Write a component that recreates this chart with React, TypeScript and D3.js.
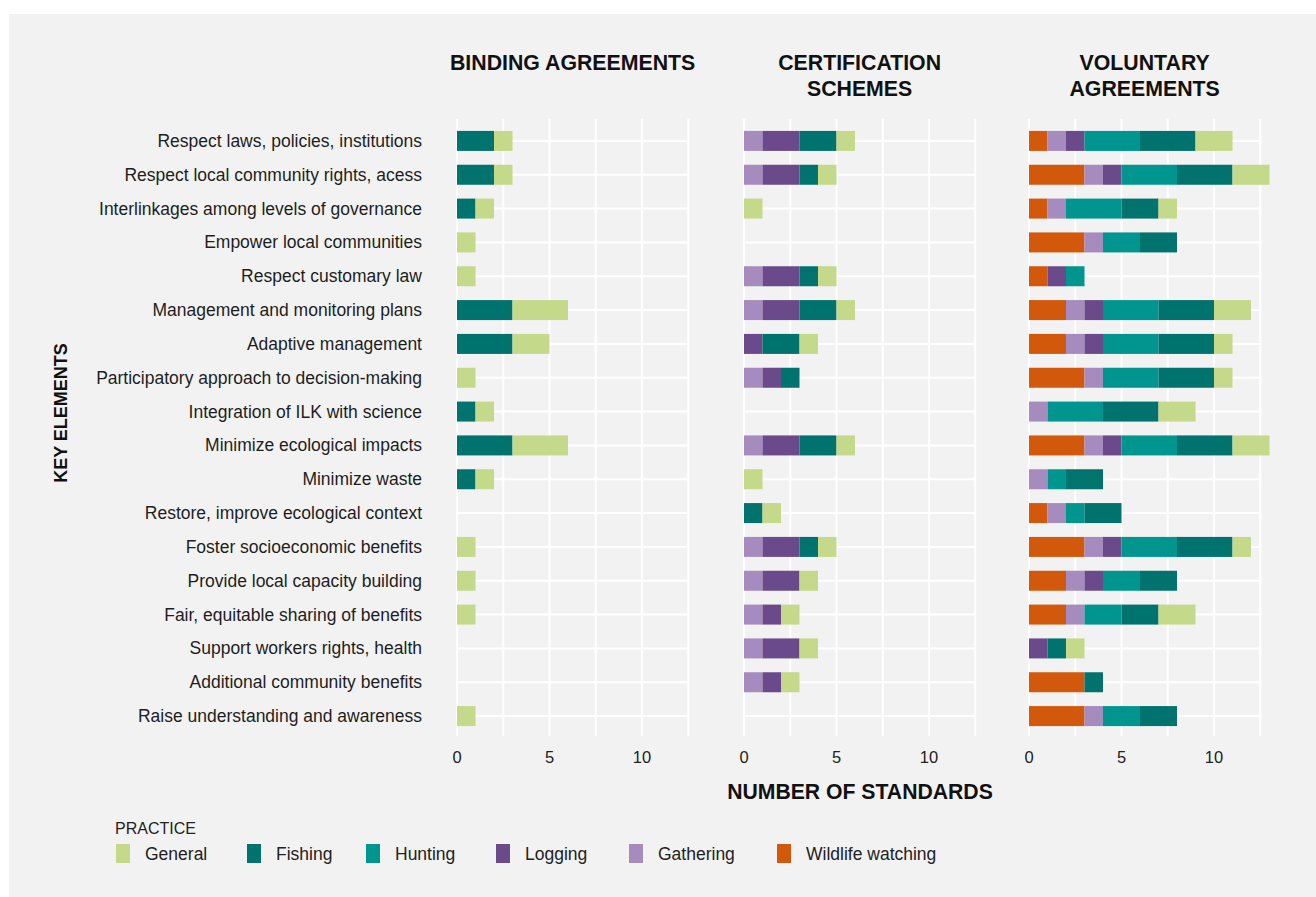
import React from "react";
import * as d3 from "d3";

const categories = [
  "Respect laws, policies, institutions",
  "Respect local community rights, acess",
  "Interlinkages among levels of governance",
  "Empower local communities",
  "Respect customary law",
  "Management and monitoring plans",
  "Adaptive management",
  "Participatory approach to decision-making",
  "Integration of ILK with science",
  "Minimize ecological impacts",
  "Minimize waste",
  "Restore, improve ecological context",
  "Foster socioeconomic benefits",
  "Provide local capacity building",
  "Fair, equitable sharing of benefits",
  "Support workers rights, health",
  "Additional community benefits",
  "Raise understanding and awareness",
];

// stack order, left to right
const stackPractices = ["Wildlife watching", "Gathering", "Logging", "Hunting", "Fishing", "General"];
const legendPractices = ["General", "Fishing", "Hunting", "Logging", "Gathering", "Wildlife watching"];
const practiceColors: Record<string, string> = {
  General: "#c4d98a",
  Fishing: "#00736e",
  Hunting: "#00968f",
  Logging: "#6a4a8b",
  Gathering: "#a68cbe",
  "Wildlife watching": "#d2580c",
};

// Binding agreements
const bindingFishing = [2, 2, 1, 0, 0, 3, 3, 0, 1, 3, 1, 0, 0, 0, 0, 0, 0, 0];
const bindingGeneral = [1, 1, 1, 1, 1, 3, 2, 1, 1, 3, 1, 0, 1, 1, 1, 0, 0, 1];

// Certification schemes
const certGathering = [1, 1, 0, 0, 1, 1, 0, 1, 0, 1, 0, 0, 1, 1, 1, 1, 1, 0];
const certLogging = [2, 2, 0, 0, 2, 2, 1, 1, 0, 2, 0, 0, 2, 2, 1, 2, 1, 0];
const certFishing = [2, 1, 0, 0, 1, 2, 2, 1, 0, 2, 0, 1, 1, 0, 0, 0, 0, 0];
const certGeneral = [1, 1, 1, 0, 1, 1, 1, 0, 0, 1, 1, 1, 1, 1, 1, 1, 1, 0];

// Voluntary agreements
const volWildlife = [1, 3, 1, 3, 1, 2, 2, 3, 0, 3, 0, 1, 3, 2, 2, 0, 3, 3];
const volGathering = [1, 1, 1, 1, 0, 1, 1, 1, 1, 1, 1, 1, 1, 1, 1, 0, 0, 1];
const volLogging = [1, 1, 0, 0, 1, 1, 1, 0, 0, 1, 0, 0, 1, 1, 0, 1, 0, 0];
const volHunting = [3, 3, 3, 2, 1, 3, 3, 3, 3, 3, 1, 1, 3, 2, 2, 0, 0, 2];
const volFishing = [3, 3, 2, 2, 0, 3, 3, 3, 3, 3, 2, 2, 3, 2, 2, 1, 1, 2];
const volGeneral = [2, 2, 1, 0, 0, 2, 1, 1, 2, 2, 0, 0, 1, 0, 2, 1, 0, 0];

const zeros = categories.map(() => 0);

const panelTitles = [["BINDING AGREEMENTS"], ["CERTIFICATION", "SCHEMES"], ["VOLUNTARY", "AGREEMENTS"]];
const panelSeries: Record<string, number[]>[] = [
  { "Wildlife watching": zeros, Gathering: zeros, Logging: zeros, Hunting: zeros, Fishing: bindingFishing, General: bindingGeneral },
  { "Wildlife watching": zeros, Gathering: certGathering, Logging: certLogging, Hunting: zeros, Fishing: certFishing, General: certGeneral },
  { "Wildlife watching": volWildlife, Gathering: volGathering, Logging: volLogging, Hunting: volHunting, Fishing: volFishing, General: volGeneral },
];
const xTicks = [0, 5, 10];
const gridTicks = [0, 2.5, 5, 7.5, 10, 12.5];
const xMax = 12.5;

const FONT = "'Liberation Sans', Arial, Helvetica, sans-serif";

export default function App() {
  const W = 1316;
  const H = 897;
  const panelLeft = [457, 744, 1029];
  const panelWidth = 231.25;
  const y = d3.scaleBand<string>().domain(categories).range([124, 733]).padding(0);
  const barH = 20;
  const gridTop = 119;
  const gridBottom = 736;

  const panels = panelSeries.map((series, pi) => {
    const x = d3.scaleLinear().domain([0, xMax]).range([panelLeft[pi], panelLeft[pi] + panelWidth]);
    const rows = categories.map((c, i) => {
      const r: any = { category: c };
      stackPractices.forEach((p) => (r[p] = series[p][i]));
      return r;
    });
    const stacked = d3.stack<any>().keys(stackPractices)(rows);
    return { x, stacked };
  });

  return (
    <svg width={W} height={H} style={{ position: "absolute", left: 0, top: 0 }} fontFamily={FONT}>
      <rect x={0} y={0} width={W} height={H} fill="#ffffff" />
      <rect x={9} y={14} width={W - 9} height={H - 14} fill="#f2f2f2" />

      {/* category labels */}
      {categories.map((c) => (
        <text
          key={c}
          x={422}
          y={(y(c) as number) + y.bandwidth() / 2}
          textAnchor="end"
          dominantBaseline="central"
          fontSize={17.5}
          fill="#1e1e1e"
        >
          {c}
        </text>
      ))}

      <text
        transform={`translate(61,413) rotate(-90)`}
        textAnchor="middle"
        dominantBaseline="central"
        fontSize={18}
        fontWeight={600}
        fill="#111"
      >
        KEY ELEMENTS
      </text>

      {panels.map(({ x, stacked }, pi) => {
        const cx = (x(0) + x(xMax)) / 2;
        return (
          <g key={pi}>
            {panelTitles[pi].map((t, li) => (
              <text key={t} x={cx} y={70 + li * 26} textAnchor="middle" fontSize={21.3} fontWeight={600} fill="#111">
                {t}
              </text>
            ))}
            {gridTicks.map((t) => (
              <line key={"v" + t} x1={x(t)} x2={x(t)} y1={gridTop} y2={gridBottom} stroke="#ffffff" strokeWidth={2} />
            ))}
            {categories.map((c) => {
              const cy = (y(c) as number) + y.bandwidth() / 2;
              return <line key={"h" + c} x1={x(0)} x2={x(xMax)} y1={cy} y2={cy} stroke="#ffffff" strokeWidth={2} />;
            })}
            {stacked.map((layer) => (
              <g key={layer.key} fill={practiceColors[layer.key]}>
                {layer.map((d, i) =>
                  d[1] - d[0] > 0 ? (
                    <rect
                      key={i}
                      x={x(d[0])}
                      width={x(d[1]) - x(d[0])}
                      y={(y(categories[i]) as number) + y.bandwidth() / 2 - barH / 2}
                      height={barH}
                    />
                  ) : null
                )}
              </g>
            ))}
            {xTicks.map((t) => (
              <text key={"t" + t} x={x(t)} y={763} textAnchor="middle" fontSize={16.5} fill="#222">
                {t}
              </text>
            ))}
          </g>
        );
      })}

      <text x={860} y={799} textAnchor="middle" fontSize={21.2} fontWeight={600} fill="#111">
        NUMBER OF STANDARDS
      </text>

      {/* legend */}
      <text x={115} y={834} fontSize={16} fill="#222">
        PRACTICE
      </text>
      {(() => {
        const sx = [116, 247, 366, 496, 629, 777];
        return legendPractices.map((p, i) => (
          <g key={p}>
            <rect x={sx[i]} y={844} width={14} height={19} fill={practiceColors[p]} />
            <text x={sx[i] + 29} y={854} dominantBaseline="central" fontSize={17.5} fill="#222">
              {p}
            </text>
          </g>
        ));
      })()}
    </svg>
  );
}
